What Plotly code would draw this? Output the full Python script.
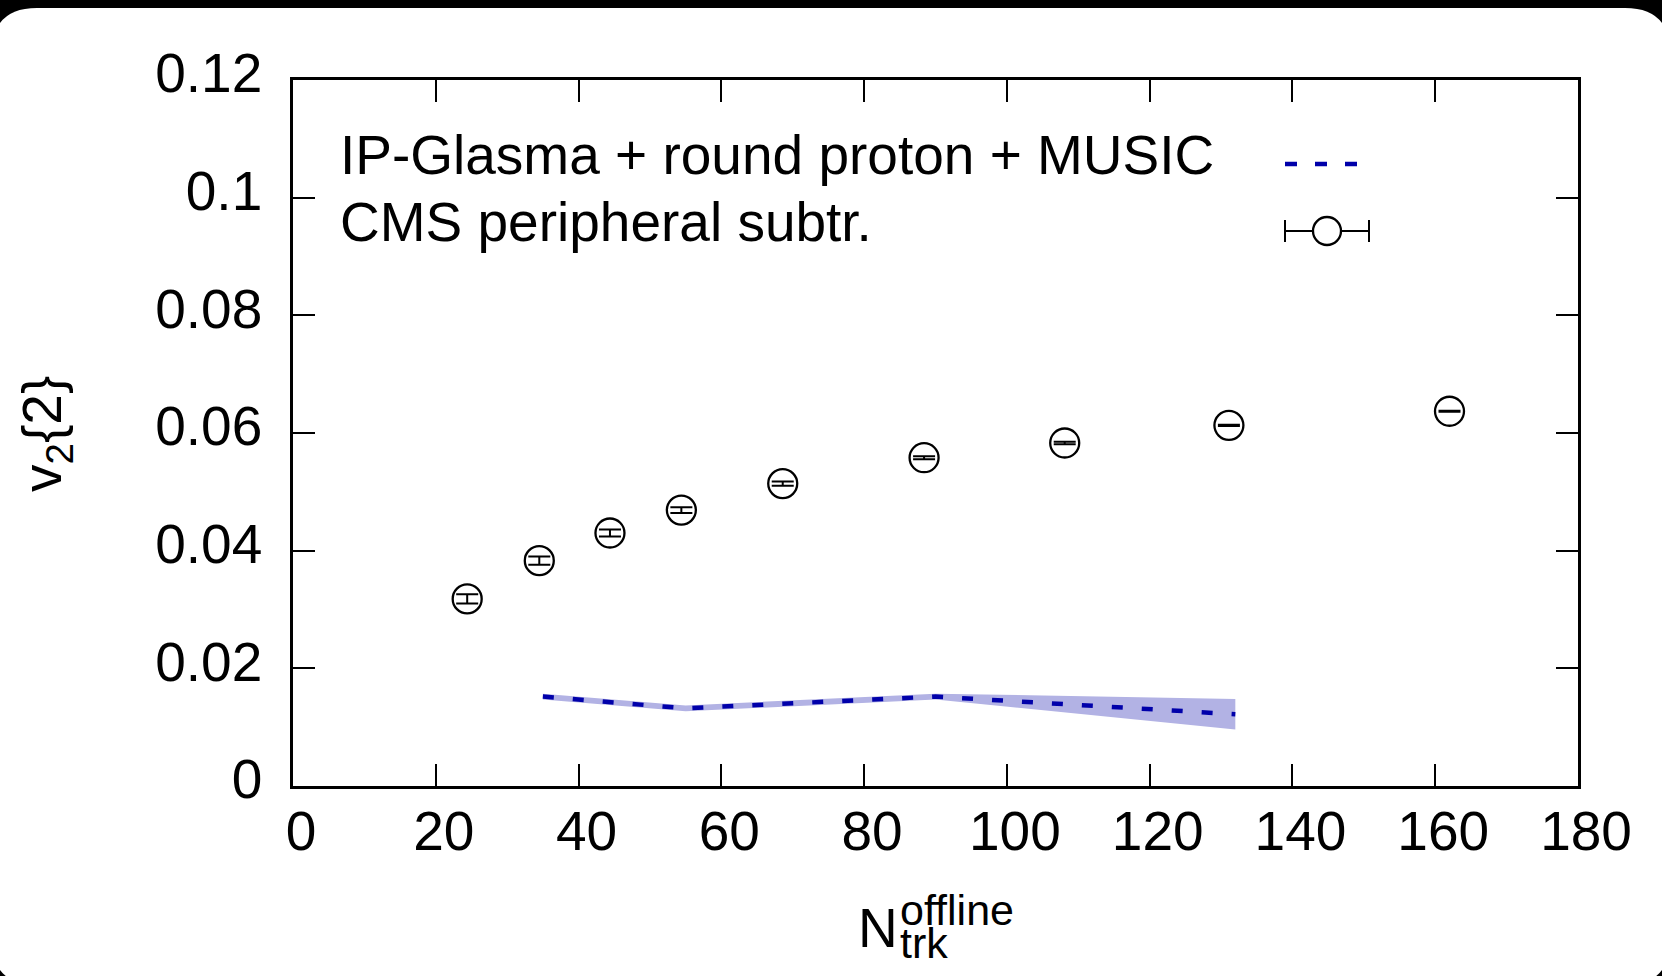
import numpy as np
import plotly.graph_objects as go

# CMS peripheral-subtracted v2{2} in p+Pb
n_trk = [24.4, 34.5, 44.4, 54.4, 68.6, 88.4, 108.1, 131.1, 162.0]
v2_cms = [0.0318, 0.0383, 0.0430, 0.0469, 0.0514, 0.0558, 0.0583, 0.0613, 0.0637]
v2_cms_err = [0.0008, 0.0007, 0.0006, 0.0005, 0.00035, 0.00025, 0.0002, 0.00012, 0.0001]

# IP-Glasma + round proton + MUSIC calculation with its uncertainty band
n_model = [35, 55, 90, 132]
v2_model = [0.0152, 0.0132, 0.0152, 0.0122]
v2_model_err = [0.0005, 0.0005, 0.0005, 0.0026]

x_ticks = [0, 20, 40, 60, 80, 100, 120, 140, 160, 180]
y_ticks = [0, 0.02, 0.04, 0.06, 0.08, 0.1, 0.12]
y_tick_text = ["0", "0.02", "0.04", "0.06", "0.08", "0.1", "0.12"]

FONT = "Liberation Sans, Arial, Helvetica, sans-serif"
FS = 55
BLUE = "#0000AA"
BAND = "rgb(178,178,228)"

W, H = 1662, 976
ML, MR, MT, MB = 293, 84, 80, 190
PW, PH = W - ML - MR, H - MT - MB


def xp(px):
    return (px - ML) / PW


def yp(py):
    return (H - MB - py) / PH


fig = go.Figure()

m = np.array(v2_model)
e = np.array(v2_model_err)
band_x = list(n_model) + list(n_model)[::-1]
band_y = list(m + e) + list((m - e)[::-1])
fig.add_trace(go.Scatter(x=band_x, y=band_y, fill="toself", fillcolor=BAND,
                         line=dict(width=0), mode="lines", hoverinfo="skip",
                         showlegend=False))
fig.add_trace(go.Scatter(x=n_model, y=v2_model, mode="lines",
                         line=dict(color=BLUE, width=4.5, dash="11px,19px"),
                         showlegend=False))
fig.add_trace(go.Scatter(x=n_trk, y=v2_cms, mode="markers",
                         marker=dict(symbol="circle-open", size=29, color="black",
                                     line=dict(width=2.3, color="black")),
                         error_y=dict(type="data", array=v2_cms_err, visible=True,
                                      color="black", thickness=2, width=11),
                         showlegend=False))

shapes = []
# rounded white card on black page
x0, x1, y0, y1, r = xp(-8), xp(1670), yp(8), yp(985), 45
rx, ry = r / PW, r / PH
path = (f"M {x0+rx},{y0} L {x1-rx},{y0} Q {x1},{y0} {x1},{y0-ry} "
        f"L {x1},{y1+ry} Q {x1},{y1} {x1-rx},{y1} L {x0+rx},{y1} "
        f"Q {x0},{y1} {x0},{y1+ry} L {x0},{y0-ry} Q {x0},{y0} {x0+rx},{y0} Z")
shapes.append(dict(type="path", path=path, xref="paper", yref="paper",
                   fillcolor="white", line=dict(width=0), layer="below"))

# legend keys
shapes.append(dict(type="line", xref="paper", yref="paper",
                   x0=xp(1285), x1=xp(1360), y0=yp(164), y1=yp(164),
                   line=dict(color=BLUE, width=4.5, dash="12px,18px")))
shapes.append(dict(type="line", xref="paper", yref="paper",
                   x0=xp(1285), x1=xp(1369), y0=yp(231), y1=yp(231),
                   line=dict(color="black", width=2)))
for cx in (1285, 1369):
    shapes.append(dict(type="line", xref="paper", yref="paper",
                       x0=xp(cx), x1=xp(cx), y0=yp(220), y1=yp(242),
                       line=dict(color="black", width=2)))
shapes.append(dict(type="circle", xref="paper", yref="paper",
                   x0=xp(1313), x1=xp(1341), y0=yp(217), y1=yp(245),
                   fillcolor="white", line=dict(color="black", width=2.3)))

annotations = [
    dict(text="IP-Glasma + round proton + MUSIC", x=xp(338), y=yp(155),
         xanchor="left", yanchor="middle"),
    dict(text="CMS peripheral subtr.", x=xp(338), y=yp(222),
         xanchor="left", yanchor="middle"),
    dict(text="N", x=xp(856), y=yp(928), xanchor="left", yanchor="middle"),
    dict(text="offline", x=xp(898), y=yp(910), xanchor="left", yanchor="middle",
         font=dict(size=43)),
    dict(text="trk", x=xp(898), y=yp(943), xanchor="left", yanchor="middle",
         font=dict(size=43)),
    dict(text="v<sub>2</sub>{2}", x=xp(46), y=yp(434), xanchor="center",
         yanchor="middle", textangle=-90),
]
for a in annotations:
    a.setdefault("xref", "paper")
    a.setdefault("yref", "paper")
    a.setdefault("showarrow", False)
    f = dict(family=FONT, size=FS, color="black")
    f.update(a.get("font", {}))
    a["font"] = f

axis_common = dict(showline=True, linecolor="black", linewidth=2.5, mirror="allticks",
                   ticks="inside", ticklen=22, tickwidth=2, tickcolor="black",
                   showgrid=False, zeroline=False,
                   tickfont=dict(family=FONT, size=FS, color="black"))

fig.update_layout(
    width=W, height=H,
    margin=dict(l=ML, r=MR, t=MT, b=MB, pad=0),
    paper_bgcolor="black", plot_bgcolor="white",
    xaxis=dict(range=[0, 180], tickvals=x_ticks, ticklabelshift=8,
               ticklabelstandoff=-5, **axis_common),
    yaxis=dict(range=[0, 0.12], tickvals=y_ticks, ticktext=y_tick_text,
               ticklabelshift=-7, ticklabelstandoff=17, **axis_common),
    shapes=shapes, annotations=annotations,
    showlegend=False,
)

fig.write_html("out.html")
